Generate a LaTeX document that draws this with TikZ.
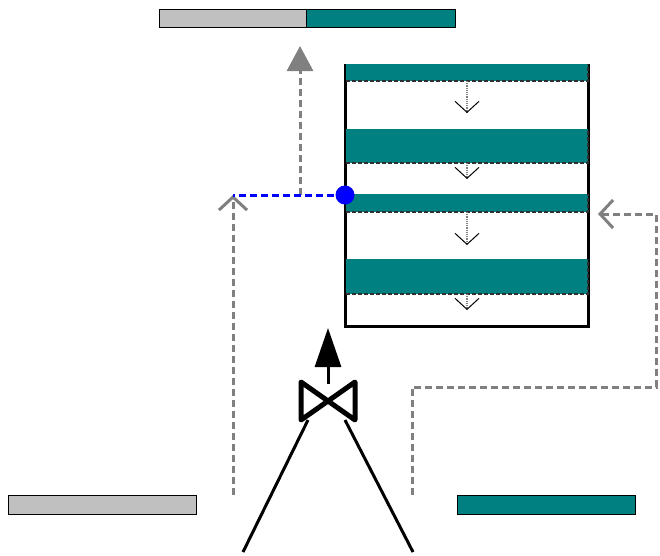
\documentclass[tikz,border=0pt]{standalone}
\usetikzlibrary{arrows.meta}
\definecolor{tl}{HTML}{008080}
\definecolor{sv}{HTML}{C0C0C0}
\definecolor{gr}{HTML}{808080}
\definecolor{dk}{HTML}{303030}
\begin{document}
\begin{tikzpicture}[x=1pt,y=-1pt,
  bar/.style={draw=black, line width=1pt, minimum height=18pt, inner sep=0pt, outer sep=0pt, anchor=north west},
  band/.style={fill=tl, draw=none, minimum width=242pt, inner sep=0pt, outer sep=0pt, anchor=north west},
  banddash/.style={draw=dk, line width=1.2pt, dash pattern=on 4pt off 2pt},
  frame/.style={draw=black, line width=3pt},
  flow/.style={draw=gr, line width=1.2pt, densely dotted, -{Straight Barb[length=11pt,width=24pt,color=black,line width=1pt]}},
  graydash/.style={draw=gr, line width=3pt, dash pattern=on 7pt off 4pt},
  chev/.style={-{Straight Barb[length=13pt,width=28pt,line width=3pt]}},
  bluedash/.style={draw=blue, line width=3pt, dash pattern=on 7pt off 4pt},
  valvest/.style={draw=black, fill=white, line width=5pt, line join=round},
  leg/.style={draw=black, line width=3pt}]
\useasboundingbox (0,0) rectangle (660,555);

% top bar
\node[bar, fill=sv, minimum width=147pt] (topgray) at (159,9) {};
\node[bar, fill=tl, minimum width=149pt] (topteal) at (306,9) {};

% column
\node[minimum width=243pt, minimum height=262pt, inner sep=0pt, outer sep=0pt, anchor=north west] (col) at (345,64) {};
\draw[frame] (col.north west) -- (col.south west) -- (col.south east) -- (col.north east);

\node[band, minimum height=17pt] (b1) at (346,64) {};
\node[band, minimum height=34pt] (b2) at (346,129) {};
\node[band, minimum height=18pt] (b3) at (346,194) {};
\node[band, minimum height=35pt] (b4) at (346,259) {};
\foreach \b in {b1,b2,b3,b4}{
  \draw[banddash] (\b.south west) -- (\b.south east) -- (\b.north east);
}

\draw[flow] (b1.south) -- ++(0,32);
\draw[flow] (b2.south) -- ++(0,16);
\draw[flow] (b3.south) -- ++(0,33);
\draw[flow] (b4.south) -- ++(0,16);

% side stream
\node[circle, fill=blue, minimum size=19pt, inner sep=0pt] (dot) at (345,195) {};
\coordinate (lj) at (233,195);
\coordinate (uj) at (300,195);
\coordinate (toptip) at (300,46);
\coordinate (lb) at (233,495);
\draw[graydash, -{Triangle[length=25pt,width=26pt]}] (uj) -- (toptip);
\draw[graydash, chev] (lb) -- (lj);
\draw[bluedash] (dot.center) -- (lj);

% right recycle
\coordinate (rb) at (412,495);
\coordinate (r1) at (412,387);
\coordinate (r2) at (656,387);
\coordinate (r3) at (656,214);
\coordinate (rtip) at (598,214);
\draw[graydash, chev] (rb) -- (r1) -- (r2) -- (r3) -- (rtip);

% valve
\node[minimum width=54pt, minimum height=38pt, inner sep=0pt, outer sep=0pt] (valve) at (328,401) {};
\draw[valvest] (valve.north west) -- (valve.south east) -- (valve.north east) -- (valve.south west) -- cycle;
\coordinate (vtip) at (328,328);
\draw[line width=3pt, -{Triangle[length=39pt,width=26pt]}] (valve.center) ++(0,-17) -- (vtip);

% legs
\coordinate (l1a) at (308,420);
\coordinate (l1b) at (243,552);
\coordinate (l2a) at (345,420);
\coordinate (l2b) at (413,552);
\draw[leg] (l1a) -- (l1b);
\draw[leg] (l2a) -- (l2b);

% bottom bars
\node[bar, fill=sv, minimum width=188pt, minimum height=19pt] (botgray) at (8,495) {};
\node[bar, fill=tl, minimum width=178pt, minimum height=19pt] (botteal) at (457,495) {};
\end{tikzpicture}
\end{document}
